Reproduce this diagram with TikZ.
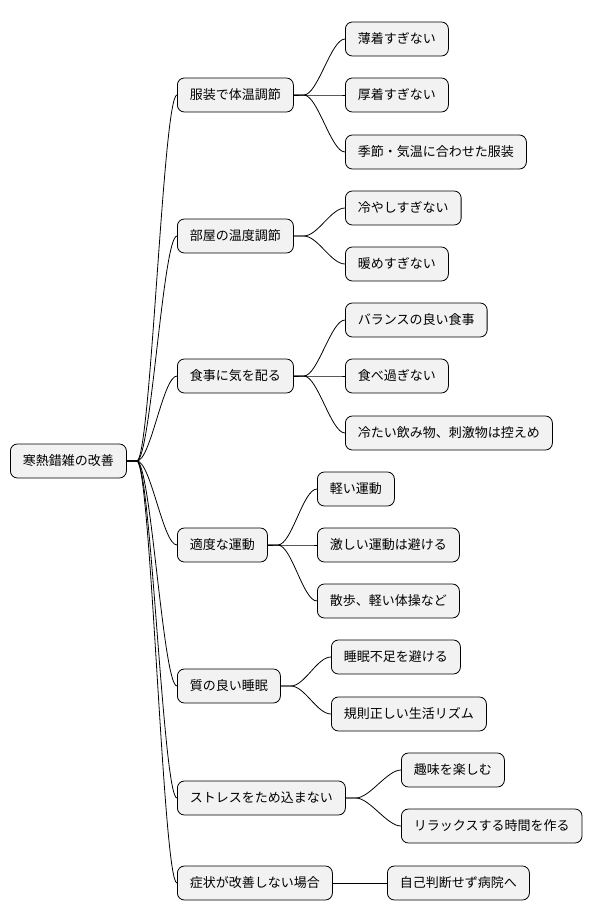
\documentclass[tikz,border=0pt]{standalone}
\usepackage{fontspec}
\setmainfont{Noto Sans CJK JP}
\tikzset{
  box/.style={draw=black, line width=0.8pt, fill=gray!10, rounded corners=7pt,
    anchor=west, minimum height=34pt, inner xsep=12.5pt, font=\fontsize{13pt}{15pt}\selectfont},
  link/.style={line width=0.8pt}
}
\begin{document}
\begin{tikzpicture}[x=1pt,y=-1pt]
  \useasboundingbox (0,0) rectangle (600,921);
  % root
  \node[box] (r) at (10,461) {寒熱錯雑の改善};
  % first level
  \node[box] (a) at (177,95) {服装で体温調節};
  \node[box] (b) at (177,236) {部屋の温度調節};
  \node[box] (c) at (177,376) {食事に気を配る};
  \node[box] (d) at (177,545) {適度な運動};
  \node[box] (e) at (177,686) {質の良い睡眠};
  \node[box] (f) at (177,798) {ストレスをため込まない};
  \node[box] (g) at (177,883) {症状が改善しない場合};
  % leaves
  \node[box] (a1) at (345,39) {薄着すぎない};
  \node[box] (a2) at (345,95) {厚着すぎない};
  \node[box] (a3) at (345,152) {季節・気温に合わせた服装};
  \node[box] (b1) at (345,208) {冷やしすぎない};
  \node[box] (b2) at (345,264) {暖めすぎない};
  \node[box] (c1) at (345,320) {バランスの良い食事};
  \node[box] (c2) at (345,376) {食べ過ぎない};
  \node[box] (c3) at (345,433) {冷たい飲み物、刺激物は控えめ};
  \node[box] (d1) at (317,489) {軽い運動};
  \node[box] (d2) at (317,545) {激しい運動は避ける};
  \node[box] (d3) at (317,601) {散歩、軽い体操など};
  \node[box] (e1) at (331,657) {睡眠不足を避ける};
  \node[box] (e2) at (331,714) {規則正しい生活リズム};
  \node[box] (f1) at (401,770) {趣味を楽しむ};
  \node[box] (f2) at (401,826) {リラックスする時間を作る};
  \node[box] (g1) at (387,883) {自己判断せず病院へ};
  % connectors
  \foreach \p/\c in {r/a,r/b,r/c,r/d,r/e,r/f,r/g,a/a1,a/a2,a/a3,b/b1,b/b2,
      c/c1,c/c2,c/c3,d/d1,d/d2,d/d3,e/e1,e/e2,f/f1,f/f2,g/g1}
    \draw[link] (\p.east) -- ++(10,0) .. controls +(14,0) and +(-14,0) .. (\c.west);
\end{tikzpicture}
\end{document}
